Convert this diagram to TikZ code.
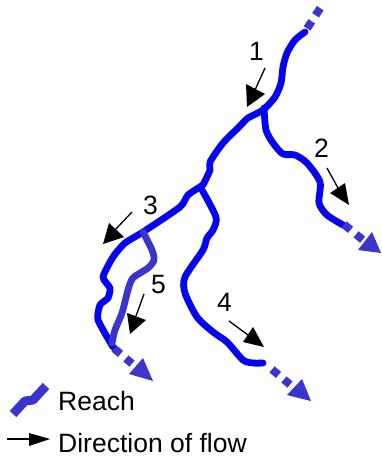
\documentclass[tikz,border=0pt]{standalone}
\usepackage{fontspec}
\setmainfont{Liberation Sans}
\tikzset{
 x=1pt,y=-1pt,
 reach/.style={draw=reachblue,line width=6.8pt,line join=round,line cap=round},
 reachb/.style={draw=reachviolet,line width=6.8pt,line join=round,line cap=round},
 dashpart/.style={draw=reachviolet,line width=8pt,dash pattern=on 8.5pt off 7.1pt},
 headv/.style={fill=reachviolet,draw=none},
 headk/.style={fill=black,draw=none},
 shaft/.style={draw=black,line width=1.3pt},
 lab/.style={inner sep=0pt,font=\fontsize{26.5}{26.5}\selectfont,anchor=base west},
}
\definecolor{reachblue}{RGB}{5,5,240}
\definecolor{reachviolet}{RGB}{58,53,204}
\begin{document}
\begin{tikzpicture}
\useasboundingbox (0,0) rectangle (381,460);
% reaches
\draw[reach] plot[smooth,tension=.45] coordinates {(305,32) (295,40) (287,53) (283,67) (281,83) (275,97) (263,110) (248,118) (239,127) (223,143) (210,162) (210,170) (203,185)};
\draw[reach] plot[smooth,tension=.45] coordinates {(264,108) (266,130) (273,143) (283,154) (295,155) (307,163) (320,182) (319,203) (327,215) (343,225)};
\draw[reach] plot[smooth,tension=.35] coordinates {(203,185) (188,195) (180,207) (143,232) (125,243) (113,257) (103,277) (110,288) (108,298) (100,305) (98,320) (113,347)};
\draw[reach] plot[smooth,tension=.45] coordinates {(202,190) (216,217) (213,230) (207,238) (203,250) (185,277) (185,293) (197,317) (213,332) (227,342) (243,360) (253,363) (263,363)};
\draw[reachb] plot[smooth,tension=.45] coordinates {(143,232) (152,250) (154,260) (148,268) (133,278) (128,290) (122,313) (115,330) (112,343)};
% dashed continuations
\coordinate (topA) at (307.1,28.4); \coordinate (topB) at (321,7);
\draw[dashpart] (topA) -- (topB);
\coordinate (twoA) at (344,224.4); \coordinate (twoB) at (363,240);
\draw[dashpart] (twoA) -- (twoB);
\coordinate (threeA) at (114,348.4); \coordinate (threeB) at (132,363.6);
\draw[dashpart] (threeA) -- (threeB);
\coordinate (fourA) at (272,369.4); \coordinate (fourB) at (290,384.6);
\draw[dashpart] (fourA) -- (fourB);
% violet heads
\fill[headv] (143,358) -- (129,374) -- (153,381) -- cycle;
\fill[headv] (302,379) -- (287,395) -- (311,401) -- cycle;
\fill[headv] (372,232) -- (358,250) -- (381,253) -- cycle;
% black arrows
\draw[shaft] (265,68) -- (255,90); \fill[headk] (246,84) -- (265,94) -- (247,107) -- cycle;
\draw[shaft] (327,168) -- (338,188); \fill[headk] (345,183) -- (330,193) -- (349,205) -- cycle;
\draw[shaft] (132,212) -- (115,230); \fill[headk] (109,223) -- (124,237) -- (103,244) -- cycle;
\draw[shaft] (144,294) -- (136,316); \fill[headk] (127,313) -- (146,320) -- (130,334) -- cycle;
\draw[shaft] (229,321) -- (248,335); \fill[headk] (253,327) -- (243,342) -- (264,347) -- cycle;
% labels
\node[lab] (n1) at (249,60) {1};
\node[lab] (n2) at (314,157) {2};
\node[lab] (n3) at (143,214) {3};
\node[lab] (n4) at (217,311) {4};
\node[lab] (n5) at (151,293) {5};
% legend
\draw[reachb,line width=9pt,line cap=butt,line join=round] (13,414) -- (25,401) -- (33,400) -- (46,386);
\draw[shaft] (7,439) -- (30,439); \fill[headk] (29,433) -- (50,439) -- (29,446) -- cycle;
\node[lab] (lr) at (58,410) {Reach};
\node[lab] (ld) at (58,452) {Direction of flow};
\end{tikzpicture}
\end{document}
